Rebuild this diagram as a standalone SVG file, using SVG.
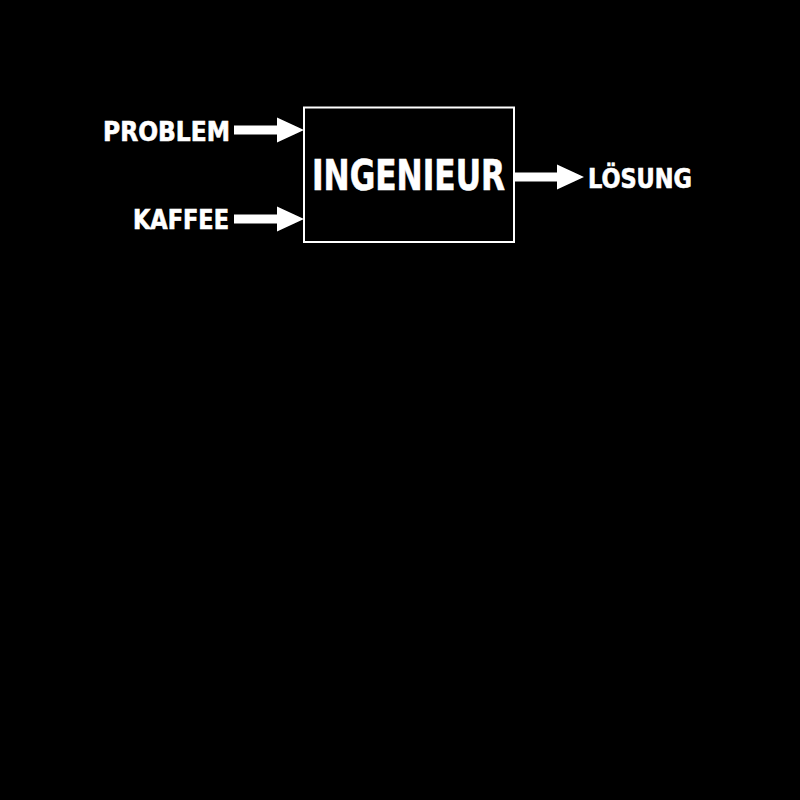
<svg xmlns="http://www.w3.org/2000/svg" width="800" height="800" viewBox="0 0 800 800">
<style>
text{font-family:"DejaVu Sans Condensed","DejaVu Sans","Liberation Sans",sans-serif;font-weight:bold;fill:#fff;stroke:#fff;stroke-width:0.6}
.arrow{fill:#fff}
</style>
<defs>
<polygon id="arr" points="0,-4.5 43,-4.5 43,-12.5 70,0 43,12.5 43,4.5 0,4.5"/>
</defs>
<rect width="800" height="800" fill="#000"/>
<g id="connectors" class="arrow">
<use href="#arr" transform="translate(234,130)"/>
<use href="#arr" transform="translate(234,219)"/>
<use href="#arr" transform="translate(514,177)"/>
</g>
<g id="ingenieur">
<rect x="304" y="107.5" width="210" height="134.5" fill="none" stroke="#fff" stroke-width="2"/>
<text x="312" y="190" font-size="42" textLength="193" lengthAdjust="spacingAndGlyphs">INGENIEUR</text>
</g>
<g id="problem">
<text x="103" y="141" font-size="26.5" textLength="127" lengthAdjust="spacingAndGlyphs">PROBLEM</text>
</g>
<g id="kaffee">
<text x="133" y="229" font-size="26.5" textLength="96" lengthAdjust="spacingAndGlyphs">KAFFEE</text>
</g>
<g id="loesung">
<text x="588" y="188" font-size="26.5" textLength="104" lengthAdjust="spacingAndGlyphs">LÖSUNG</text>
</g>
</svg>
